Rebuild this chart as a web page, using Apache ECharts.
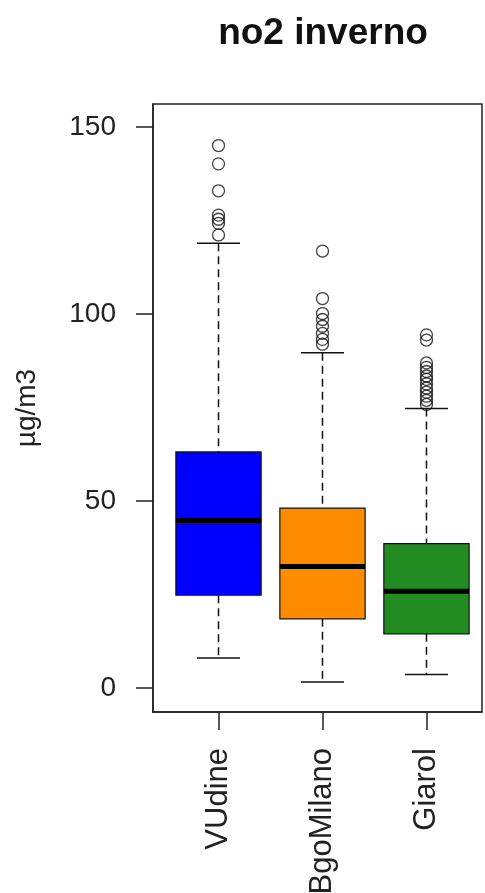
<!DOCTYPE html>
<html>
<head>
<meta charset="utf-8">
<script src="https://cdn.jsdelivr.net/npm/echarts@6/dist/echarts.min.js"></script>
<style>html,body{margin:0;padding:0;background:#fff;}#c{width:485px;height:893px;}</style>
</head>
<body>
<div id="c"></div>
<script>
const categories = ['VUdine', 'BgoMilano', 'Giarol'];
const lowerWhisker = [8.0, 1.6, 3.6];
const q1 = [24.8, 18.5, 14.5];
const median = [44.8, 32.5, 25.9];
const q3 = [63.1, 48.1, 38.6];
const upperWhisker = [118.9, 89.6, 74.7];
const outliersVUdine = [145.0, 140.1, 132.9, 126.4, 125.3, 124.2, 121.1];
const outliersBgoMilano = [116.8, 104.1, 100.1, 98.5, 96.7, 94.8, 93.2, 91.9];
const outliersGiarol = [94.4, 93.0, 86.9, 85.7, 84.6, 83.4, 82.5, 81.3, 80.2, 79.1, 78.0, 76.9, 75.8];
const yTicks = [0, 50, 100, 150];
const boxColors = ['#0000FF', '#FF8C00', '#228B22'];

const boxData = categories.map((c, i) => [i + 1, lowerWhisker[i], q1[i], median[i], q3[i], upperWhisker[i]]);
const outlierLists = [outliersVUdine, outliersBgoMilano, outliersGiarol];
const outlierData = [];
outlierLists.forEach((list, i) => list.forEach(v => outlierData.push([i + 1, v])));

const FONT = 'Liberation Sans, Arial, sans-serif';
const chart = echarts.init(document.getElementById('c'), null, {renderer: 'canvas'});
chart.setOption({
  animation: false,
  backgroundColor: '#fff',
  title: {
    text: 'no2 inverno', left: 318, top: 10, textAlign: 'center',
    textStyle: {fontSize: 37, fontWeight: 'bold', color: '#111', fontFamily: FONT}
  },
  grid: {left: 153, top: 104, right: 3, bottom: 181, outerBoundsMode: 'none', containLabel: false,
    show: true, borderColor: '#222', borderWidth: 1.5, backgroundColor: 'transparent'},
  xAxis: {
    type: 'value', min: 0.37, max: 3.534,
    splitLine: {show: false},
    axisLine: {show: true, onZero: false, lineStyle: {color: '#222', width: 1.5}},
    axisTick: {show: true, length: 18, customValues: [1, 2, 3], lineStyle: {color: '#222', width: 1.5}},
    axisLabel: {
      customValues: [1, 2, 3], rotate: 90, margin: 36, fontSize: 31, color: '#222', fontFamily: FONT,
      formatter: v => categories[Math.round(v) - 1] || ''
    }
  },
  yAxis: {
    type: 'value', min: -6.4, max: 156.1,
    name: 'µg/m3', nameLocation: 'middle', nameGap: 112, nameRotate: 90,
    nameTextStyle: {fontSize: 28, color: '#222', fontFamily: FONT},
    splitLine: {show: false},
    axisLine: {show: true, onZero: false, lineStyle: {color: '#222', width: 1.5}},
    axisTick: {show: true, length: 17, customValues: yTicks, lineStyle: {color: '#222', width: 1.5}},
    axisLabel: {customValues: yTicks, margin: 37, fontSize: 28, color: '#222', fontFamily: FONT}
  },
  series: [
    {
      type: 'custom',
      data: boxData,
      encode: {x: 0, y: [1, 2, 3, 4, 5]},
      renderItem: function (params, api) {
        const x = api.value(0);
        const lw = api.value(1), a = api.value(2), md = api.value(3), b = api.value(4), uw = api.value(5);
        const hw = 0.41, cw = 0.207;
        const pLw = api.coord([x, lw]), pA = api.coord([x, a]), pB = api.coord([x, b]), pUw = api.coord([x, uw]);
        const pMdL = api.coord([x - hw, md]), pMdR = api.coord([x + hw, md]);
        const boxL = api.coord([x - hw, b]), boxR = api.coord([x + hw, a]);
        const capL = api.coord([x - cw, 0])[0], capR = api.coord([x + cw, 0])[0];
        const dash = {stroke: '#111', lineWidth: 1.5, lineDash: [8, 5]};
        const solid = {stroke: '#111', lineWidth: 1.5};
        return {
          type: 'group',
          children: [
            {type: 'line', shape: {x1: pUw[0], y1: pUw[1], x2: pB[0], y2: pB[1]}, style: dash},
            {type: 'line', shape: {x1: pA[0], y1: pA[1], x2: pLw[0], y2: pLw[1]}, style: dash},
            {type: 'line', shape: {x1: capL, y1: pUw[1], x2: capR, y2: pUw[1]}, style: solid},
            {type: 'line', shape: {x1: capL, y1: pLw[1], x2: capR, y2: pLw[1]}, style: solid},
            {type: 'rect', shape: {x: boxL[0], y: boxL[1], width: boxR[0] - boxL[0], height: boxR[1] - boxL[1]},
              style: {fill: boxColors[params.dataIndex], stroke: '#111', lineWidth: 1.2}},
            {type: 'line', shape: {x1: pMdL[0], y1: pMdL[1], x2: pMdR[0], y2: pMdR[1]}, style: {stroke: '#000', lineWidth: 5}}
          ]
        };
      }
    },
    {
      type: 'scatter',
      data: outlierData,
      symbol: 'circle',
      symbolSize: 12,
      itemStyle: {color: 'transparent', borderColor: '#111', borderWidth: 1.3}
    }
  ]
});
</script>
</body>
</html>
